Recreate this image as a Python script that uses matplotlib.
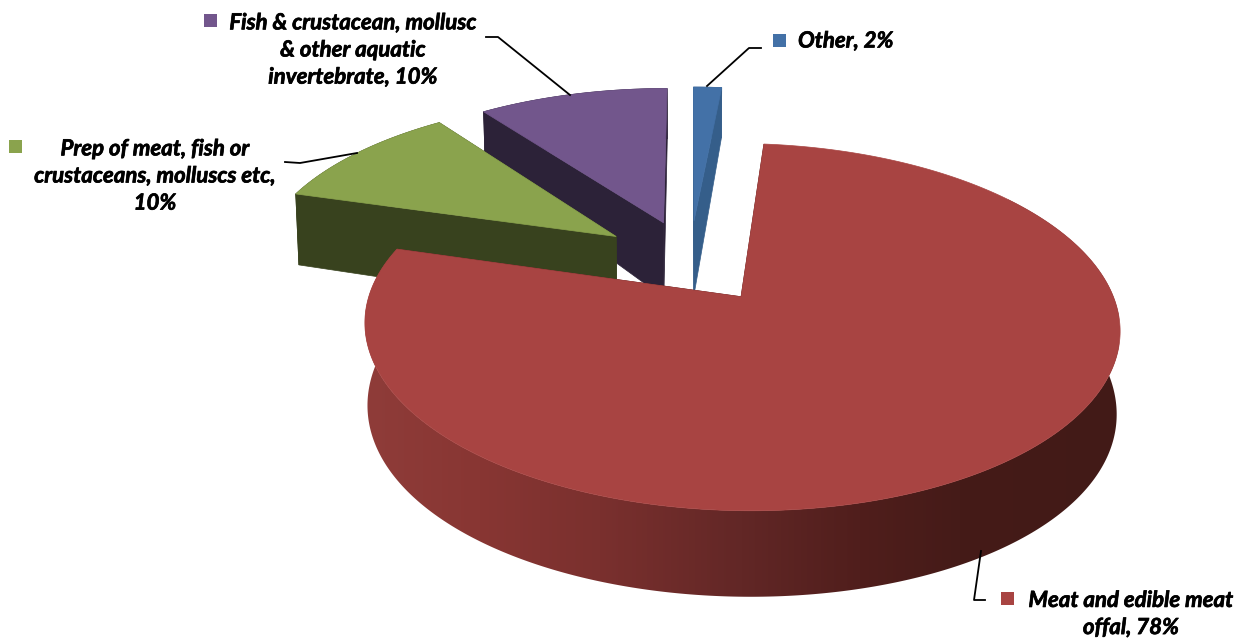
import matplotlib
matplotlib.use("Agg")
import matplotlib.pyplot as plt
import matplotlib.patheffects as pe
import numpy as np
from matplotlib.patches import Polygon

# shares are a bit finer than the rounded labels
categories = ["Other", "Meat and edible meat offal", "Prep of meat, fish or crustaceans, molluscs etc",
              "Fish & crustacean, mollusc & other aquatic invertebrate"]
shares = [1.5, 78.0, 10.4, 10.1]
label_texts = ["Other, 2%", "Meat and edible meat\noffal, 78%",
               "Prep of meat, fish or\ncrustaceans, molluscs etc,\n10%",
               "Fish & crustacean, mollusc\n& other aquatic\ninvertebrate, 10%"]

top_colors = ["#4371a7", "#a84442", "#8aa34d", "#72568c"]
cut_colors = ["#355e8a", "#4a1c1a", "#38421e", "#2c2238"]
side_colors = ["#355e8a", None, "#38421e", "#2c2238"]
explode = [1.0, 1.0, 1.05, 1.0]

# red wall gets darker from left to right
wall_x = [365, 480, 600, 742, 860, 960, 1119]
wall_rgb = [(0x8f, 0x3c, 0x39), (0x88, 0x36, 0x33), (0x7a, 0x30, 0x2e), (0x62, 0x27, 0x26),
            (0x50, 0x1e, 0x1c), (0x45, 0x1b, 0x18), (0x42, 0x1a, 0x17)]

# pie projection, pixels of the 1245x639 figure
X0, Y0 = 690, 261
A, B, K = 360, 167, 0.16
EX, EY = 0.244, 0.25
SHRINK = 0.992

key_pos = [(773, 34), (1001, 592), (9, 140), (204, 14)]
text_pos = [(798, 41, "left"), (1131, 614, "center"), (155, 176, "center"), (353, 50, "center")]
leaders = [([707, 749, 761], [86, 48, 48]),
           ([981, 974, 985], [551, 600, 600]),
           ([357, 300, 285], [153, 163, 162]),
           ([570, 498, 486], [95, 37, 37])]


def project(x, y, low=False):
    w = 1 + K * y
    px = X0 + A * x / w
    py = Y0 - B * y / w
    if low:
        px = X0 + (px - X0) * SHRINK
        # wall height, fitted by eye against the rim
        py = py + 78.4 - 14.4 * y - 6.7 * y ** 2
    return px, py


def main():
    fig = plt.figure(figsize=(12.45, 6.39), dpi=100)
    ax = fig.add_axes([0, 0, 1, 1])

    gx = np.arange(wall_x[0], wall_x[-1] + 1)
    gradient = np.array([[np.interp(gx, wall_x, [c[k] for c in wall_rgb]) / 255 for k in range(3)]])
    gradient = np.moveaxis(gradient, 1, 2)

    edges = np.concatenate([[0], np.cumsum(shares)]) / sum(shares) * 2 * np.pi
    z = 1
    # back slices first, red one goes on top
    for i in (3, 0, 2, 1):
        t0, t1 = edges[i], edges[i + 1]
        mid = (t0 + t1) / 2
        cx, cy = explode[i] * EX * np.sin(mid), explode[i] * EY * np.cos(mid)
        t = np.linspace(t0, t1, max(int((t1 - t0) * 90), 8))
        rx = cx + np.sin(t)
        ry = cy + np.cos(t)
        tx, ty = project(rx, ry)
        bx, by = project(rx, ry, low=True)
        ax0, ay0 = project(cx, cy)
        ax1, ay1 = project(cx, cy, low=True)
        for j in (0, -1):
            face = [(ax0, ay0), (tx[j], ty[j]), (bx[j], by[j]), (ax1, ay1)]
            ax.add_patch(Polygon(face, fc=cut_colors[i], ec=cut_colors[i], lw=0.5, zorder=z))
        z += 1
        wall = np.column_stack([np.r_[tx, bx[::-1]], np.r_[ty, by[::-1]]])
        if side_colors[i]:
            ax.add_patch(Polygon(wall, fc=side_colors[i], ec=side_colors[i], lw=0.5, zorder=z))
        else:
            # only the front part of the rim shows
            front = ry < cy + 0.6
            wall = np.column_stack([np.r_[tx[front], bx[front][::-1]], np.r_[ty[front], by[front][::-1]]])
            clip = Polygon(wall, transform=ax.transData, fc="none", ec="none")
            ax.add_patch(clip)
            im = ax.imshow(gradient, extent=(wall_x[0], wall_x[-1], 639, 0), aspect="auto",
                           interpolation="bilinear", zorder=z)
            im.set_clip_path(clip)
        z += 1
        top = np.column_stack([np.r_[ax0, tx], np.r_[ay0, ty]])
        ax.add_patch(Polygon(top, fc=top_colors[i], ec=top_colors[i], lw=0.5, zorder=z))
        z += 1

    for i in range(4):
        ax.plot(leaders[i][0], leaders[i][1], color="black", lw=1.3, zorder=z)
        kx, ky = key_pos[i]
        ax.add_patch(Polygon([(kx, ky), (kx + 13, ky), (kx + 13, ky + 13), (kx, ky + 13)],
                             fc=top_colors[i], ec="none", zorder=z))
        px, py, ha = text_pos[i]
        ax.text(px, py, label_texts[i], ha=ha, va="center", family="Lato", weight="bold",
                style="italic", fontsize=16, linespacing=1.36, color="black", zorder=z,
                path_effects=[pe.withStroke(linewidth=0.5, foreground="black")])

    ax.set_xlim(0, 1245)
    ax.set_ylim(639, 0)
    ax.axis("off")
    fig.savefig("out.png", dpi=100)
    plt.close(fig)


if __name__ == "__main__":
    main()
